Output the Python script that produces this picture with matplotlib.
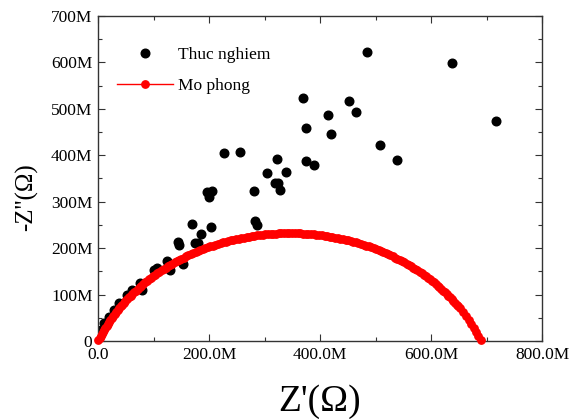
import matplotlib
matplotlib.use("Agg")
import matplotlib.pyplot as plt
from matplotlib.ticker import FuncFormatter, MultipleLocator

plt.rcParams['font.family'] = ['Liberation Serif', 'DejaVu Serif']

# Thuc nghiem (measured), units: M-ohm
exp_re = [484, 638, 718, 369, 452, 465, 414, 374, 420, 508, 538, 227, 255, 323,
          375, 389, 304, 338, 319, 325, 327, 281, 196, 206, 200, 169, 204, 185,
          283, 286, 144, 146, 174, 181, 124, 154, 130, 101, 107, 76, 79, 62, 53,
          38, 29, 20, 11, 5, 2]
exp_im = [623, 599, 473, 523, 517, 494, 486, 458, 446, 423, 390, 404, 408, 391,
          387, 379, 361, 364, 340, 340, 325, 322, 320, 322, 311, 251, 246, 231,
          259, 250, 214, 207, 211, 211, 173, 165, 153, 153, 157, 124, 110, 110, 99,
          81, 67, 52, 38, 24, 10]

# Mo phong (fit), (Z', -Z'') pairs in M-ohm
sim_points = [
    (0.8, 2.1), (2.7, 6.5), (4.7, 11.0), (6.7, 15.5), (8.8, 19.9), (10.9, 24.3),
    (13.1, 28.6), (15.3, 32.9), (17.6, 37.3), (20.0, 41.5), (22.4, 45.8),
    (24.9, 50.0), (27.4, 54.1), (30.0, 58.3), (32.6, 62.4), (35.3, 66.5),
    (38.0, 70.5), (40.8, 74.5), (43.6, 78.5), (46.5, 82.4), (49.5, 86.3),
    (52.5, 90.1), (55.5, 93.9), (58.6, 97.7), (61.8, 101.4), (65.0, 105.1),
    (68.2, 108.7), (71.5, 112.4), (74.8, 115.9), (78.2, 119.4), (81.6, 122.9),
    (85.1, 126.3), (88.6, 129.7), (92.1, 133.0), (95.8, 136.3), (99.4, 139.5),
    (103.1, 142.7), (106.8, 145.9), (110.6, 149.0), (114.4, 152.0),
    (118.2, 155.0), (122.1, 158.0), (126.0, 160.9), (130.0, 163.7),
    (134.0, 166.5), (138.0, 169.2), (142.1, 171.9), (146.2, 174.5),
    (150.4, 177.1), (154.5, 179.6), (158.8, 182.1), (163.0, 184.5),
    (167.2, 186.9), (171.6, 189.2), (175.9, 191.4), (180.2, 193.6),
    (184.6, 195.7), (189.0, 197.8), (193.5, 199.8), (198.0, 201.8),
    (202.4, 203.7), (207.0, 205.5), (211.5, 207.3), (216.1, 209.0),
    (220.7, 210.6), (225.3, 212.2), (229.9, 213.8), (234.6, 215.2),
    (239.2, 216.7), (243.9, 218.0), (248.6, 219.3), (253.3, 220.5),
    (258.1, 221.7), (262.8, 222.8), (267.6, 223.8), (272.3, 224.8),
    (277.1, 225.8), (281.9, 226.6), (286.7, 227.4), (291.5, 228.2),
    (296.4, 228.8), (301.2, 229.4), (306.1, 230.0), (310.9, 230.4),
    (315.8, 230.8), (320.6, 231.2), (325.5, 231.5), (330.4, 231.7),
    (335.2, 231.9), (340.1, 232.0), (345.0, 232.0), (349.9, 232.0),
    (354.8, 231.9), (359.6, 231.7), (364.5, 231.5), (369.4, 231.2),
    (374.2, 230.8), (379.1, 230.4), (383.9, 230.0), (388.8, 229.4),
    (393.6, 228.8), (398.5, 228.2), (403.3, 227.4), (408.1, 226.6),
    (412.9, 225.8), (417.7, 224.8), (422.4, 223.8), (427.2, 222.8),
    (431.9, 221.7), (436.7, 220.5), (441.4, 219.3), (446.1, 218.0),
    (450.8, 216.7), (455.4, 215.2), (460.1, 213.8), (464.7, 212.2),
    (469.3, 210.6), (473.9, 209.0), (478.5, 207.3), (483.0, 205.5),
    (487.6, 203.7), (492.0, 201.8), (496.5, 199.8), (501.0, 197.8),
    (505.4, 195.7), (509.8, 193.6), (514.1, 191.4), (518.4, 189.2),
    (522.8, 186.9), (527.0, 184.5), (531.3, 182.1), (535.5, 179.6),
    (539.6, 177.1), (543.8, 174.5), (547.9, 171.9), (552.0, 169.2),
    (556.0, 166.5), (560.0, 163.7), (564.0, 160.9), (567.9, 158.0),
    (571.8, 155.0), (575.6, 152.0), (579.4, 149.0), (583.2, 145.9),
    (586.9, 142.7), (590.6, 139.5), (594.2, 136.3), (597.9, 133.0),
    (601.4, 129.7), (604.9, 126.3), (608.4, 122.9), (611.8, 119.4),
    (615.2, 115.9), (618.5, 112.4), (621.8, 108.7), (625.0, 105.1),
    (628.2, 101.4), (631.4, 97.7), (634.5, 93.9), (637.5, 90.1),
    (640.5, 86.3), (643.5, 82.4), (646.4, 78.5), (649.2, 74.5), (652.0, 70.5),
    (657.4, 62.4), (662.6, 54.1), (667.6, 45.8), (672.4, 37.3), (676.9, 28.6),
    (681.2, 19.9), (685.3, 11.0), (689.2, 2.1),
]
sim_re = [p[0] for p in sim_points]
sim_im = [p[1] for p in sim_points]

fig = plt.figure(figsize=(5.79, 4.19), dpi=100)
ax = fig.add_axes([0.1693, 0.1862, 0.7668, 0.7757])

ax.plot(exp_re, exp_im, 'o', color='black', markersize=6.2, label='Thuc nghiem',
        zorder=2)
ax.plot(sim_re, sim_im, '-o', color='red', markersize=5.3, linewidth=1,
        label='Mo phong', zorder=3, clip_on=False)

ax.set_xlim(0, 800)
ax.set_ylim(0, 700)
ax.xaxis.set_major_locator(MultipleLocator(200))
ax.xaxis.set_minor_locator(MultipleLocator(100))
ax.yaxis.set_major_locator(MultipleLocator(100))
ax.yaxis.set_minor_locator(MultipleLocator(50))
ax.xaxis.set_major_formatter(FuncFormatter(lambda v, p: '0.0' if v == 0 else f'{v:.1f}M'))
ax.yaxis.set_major_formatter(FuncFormatter(lambda v, p: '0' if v == 0 else f'{v:.0f}M'))

ax.tick_params(which='both', direction='in', top=True, right=True,
               labelsize=12.5, color='#333333')
ax.tick_params(which='major', length=5, width=0.8, pad=4)
ax.tick_params(which='minor', length=3, width=0.8)
for s in ax.spines.values():
    s.set_color('#333333')
    s.set_linewidth(1)

ax.set_xlabel("Z'(Ω)", fontsize=27)
ax.xaxis.set_label_coords(0.5, -0.188)
ax.xaxis.label.set_va('center')
ax.set_ylabel("-Z''(Ω)", fontsize=18)
ax.yaxis.set_label_coords(-0.16, 0.443)
ax.yaxis.label.set_va('center')

ax.legend(loc='upper left', bbox_to_anchor=(0.043, 0.905), frameon=False,
          fontsize=12.5, handlelength=3.2, handletextpad=0.3, labelspacing=0.85,
          borderpad=0, borderaxespad=0)

fig.savefig('out.png', dpi=100)
